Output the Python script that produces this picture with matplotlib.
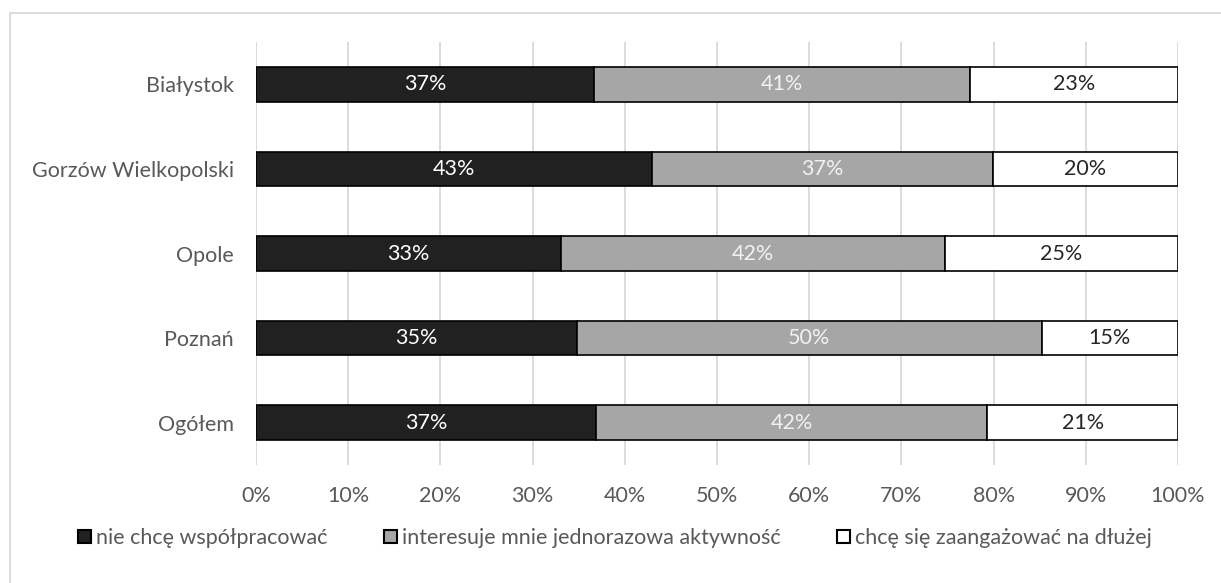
import matplotlib
matplotlib.use("Agg")
import matplotlib.pyplot as plt
from matplotlib.patches import Rectangle
import numpy as np

plt.rcParams['font.family'] = ['Lato', 'DejaVu Sans']

categories = ["Białystok", "Gorzów Wielkopolski", "Opole", "Poznań", "Ogółem"]
series_names = ["nie chcę współpracować", "interesuje mnie jednorazowa aktywność",
                "chcę się zaangażować na dłużej"]
nie_chce = [36.7, 43.0, 33.1, 34.8, 36.9]
jednorazowa = [40.7, 36.9, 41.6, 50.4, 42.4]
na_dluzej = [22.6, 20.1, 25.3, 14.8, 20.7]
labels_nie = ["37%", "43%", "33%", "35%", "37%"]
labels_jed = ["41%", "37%", "42%", "50%", "42%"]
labels_dl = ["23%", "20%", "25%", "15%", "21%"]
xticks = [0, 10, 20, 30, 40, 50, 60, 70, 80, 90, 100]
xticklabels = [f"{t}%" for t in xticks]

colors = ["#212121", "#a6a6a6", "#ffffff"]
text_colors = ["#ffffff", "#f2f2f2", "#262626"]
FS = 15.5

fig = plt.figure(figsize=(12.21, 5.83), dpi=100)
ax = fig.add_axes([256/1221, 1 - 465/583, (1178-256)/1221, (465-42)/583])

y = np.arange(len(categories))
left = np.zeros(len(categories))
for vals, col, tcol, labs, name in zip([nie_chce, jednorazowa, na_dluzej], colors, text_colors,
                                       [labels_nie, labels_jed, labels_dl], series_names):
    ax.barh(y, vals, left=left, height=0.41, color=col, edgecolor="black",
            linewidth=1.2, label=name, zorder=3)
    for yi, l, v, lab in zip(y, left, vals, labs):
        ax.text(l + v/2, yi, lab, ha="center", va="center", color=tcol, fontsize=FS, zorder=4)
    left = left + np.array(vals)

ax.set_xlim(0, 100)
ax.set_ylim(len(categories) - 0.5, -0.5)
ax.set_yticks(y)
ax.set_yticklabels(categories, fontsize=FS, color="#595959")
ax.set_xticks(xticks)
ax.set_xticklabels(xticklabels, fontsize=FS, color="#595959")
ax.tick_params(axis="both", length=0)
ax.tick_params(axis="x", pad=15)
ax.tick_params(axis="y", pad=16)
ax.grid(axis="x", color="#d9d9d9", linewidth=1.3, zorder=0)
for s in ax.spines.values():
    s.set_visible(False)

leg = fig.legend(loc="center", bbox_to_anchor=(615/1221, 1 - 538/583), ncol=3, frameon=False,
                 fontsize=FS, handlelength=0.6, handleheight=0.6, handletextpad=0.25,
                 columnspacing=2.6, labelcolor="#595959")
for h in leg.legend_handles:
    h.set_linewidth(1.5)

fig.patches.append(Rectangle((10/1221, -0.1), 1.2, 1 - 13/583 + 0.1, transform=fig.transFigure,
                             fill=False, edgecolor="#d9d9d9", linewidth=1.3))

fig.savefig("out.png", dpi=100)
